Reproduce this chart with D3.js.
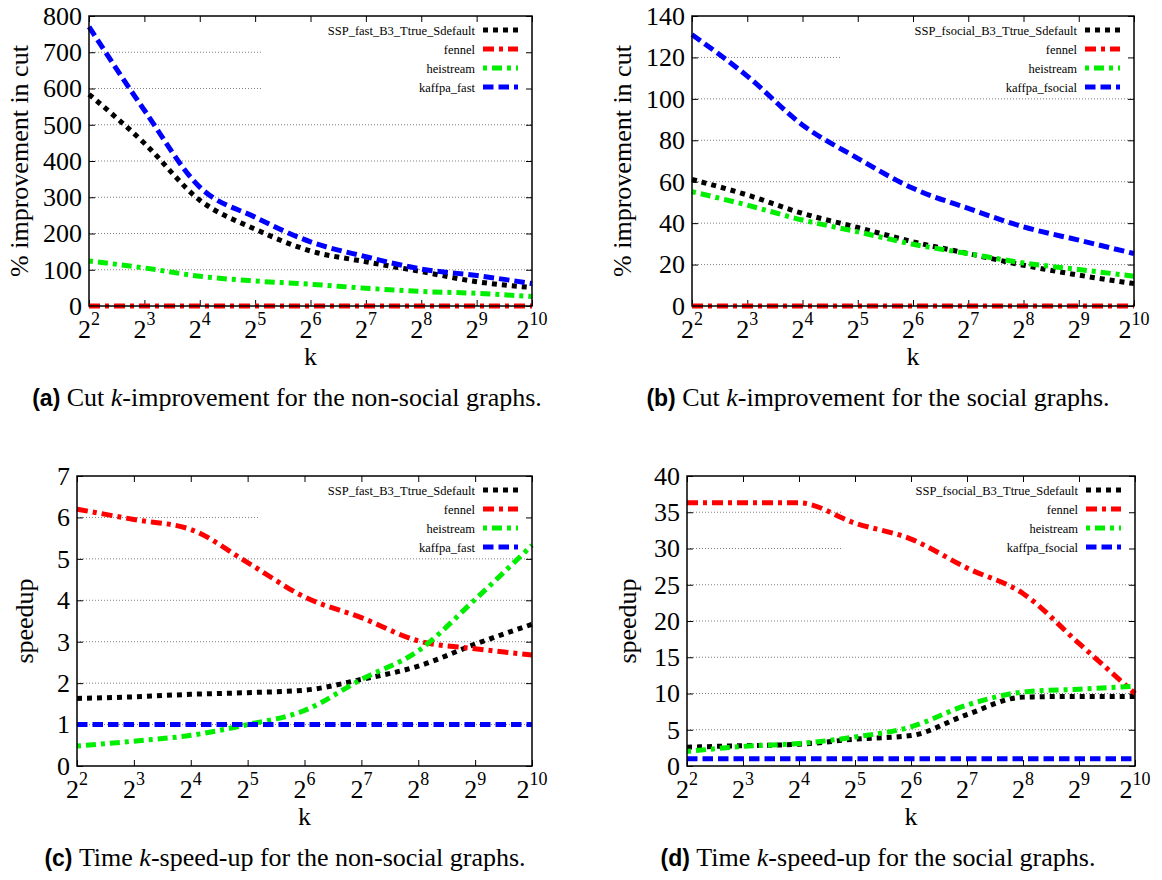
<!DOCTYPE html>
<html>
<head>
<meta charset="utf-8">
<script src="https://cdn.jsdelivr.net/npm/d3@7"></script>
<style>
  html, body { margin: 0; padding: 0; background: #fff; }
  svg { display: block; }
</style>
</head>
<body>
<svg id="chart" width="1162" height="880" font-family="'Liberation Serif', 'Times New Roman', serif"></svg>
<script>
// ---------------- data ----------------
const kExponents = [2, 3, 4, 5, 6, 7, 8, 9, 10];

const seriesNamesFast   = ["SSP_fast_B3_Ttrue_Sdefault", "fennel", "heistream", "kaffpa_fast"];
const seriesNamesSocial = ["SSP_fsocial_B3_Ttrue_Sdefault", "fennel", "heistream", "kaffpa_fsocial"];

// (a) % improvement in cut, non-social graphs
const cutNonSocialSSP       = [584, 449, 292, 212, 152, 122, 95, 67, 51];
const cutNonSocialFennel    = [0, 0, 0, 0, 0, 0, 0, 0, 0];
const cutNonSocialHeistream = [124, 105, 82, 69, 60, 49, 40, 35, 26];
const cutNonSocialKaffpa    = [770, 540, 328, 245, 177, 136, 102, 84, 62];

// (b) % improvement in cut, social graphs
const cutSocialSSP       = [61.1, 53.6, 44.7, 37.9, 31.0, 25.3, 19.7, 14.9, 10.8];
const cutSocialFennel    = [0, 0, 0, 0, 0, 0, 0, 0, 0];
const cutSocialHeistream = [55.2, 48.7, 41.5, 35.8, 29.8, 25.3, 20.8, 17.6, 14.4];
const cutSocialKaffpa    = [131, 111, 87.4, 71.3, 56.8, 47.1, 38.2, 31.8, 25.3];

// (c) speedup, non-social graphs
const timeNonSocialSSP       = [1.63, 1.67, 1.73, 1.77, 1.83, 2.09, 2.41, 2.94, 3.42];
const timeNonSocialFennel    = [6.2, 5.95, 5.71, 4.91, 4.08, 3.58, 3.02, 2.83, 2.68];
const timeNonSocialHeistream = [0.48, 0.6, 0.74, 1.0, 1.34, 2.09, 2.78, 4.02, 5.33];
const timeNonSocialKaffpa    = [1, 1, 1, 1, 1, 1, 1, 1, 1];

// (d) speedup, social graphs
const timeSocialSSP       = [2.6, 2.8, 3.0, 3.7, 4.2, 7.1, 9.5, 9.6, 9.6];
const timeSocialFennel    = [36.3, 36.3, 36.3, 33.5, 31.3, 27.3, 23.8, 16.9, 10.0];
const timeSocialHeistream = [2.0, 2.7, 3.1, 4.0, 5.4, 8.4, 10.2, 10.6, 11.0];
const timeSocialKaffpa    = [1, 1, 1, 1, 1, 1, 1, 1, 1];

const yTicksA = [0, 100, 200, 300, 400, 500, 600, 700, 800];
const yTicksB = [0, 20, 40, 60, 80, 100, 120, 140];
const yTicksC = [0, 1, 2, 3, 4, 5, 6, 7];
const yTicksD = [0, 5, 10, 15, 20, 25, 30, 35, 40];

const yLabelCut = "% improvement in cut";
const yLabelSpeed = "speedup";
const xLabel = "k";

const captionA = { tag: "(a)", pre: "Cut ", post: "-improvement for the non-social graphs." };
const captionB = { tag: "(b)", pre: "Cut ", post: "-improvement for the social graphs." };
const captionC = { tag: "(c)", pre: "Time ", post: "-speed-up for the non-social graphs." };
const captionD = { tag: "(d)", pre: "Time ", post: "-speed-up for the social graphs." };

// ---------------- styles ----------------
const SERIF = "'Liberation Serif', 'Times New Roman', serif";
const SANS = "'Liberation Sans', Arial, sans-serif";
const seriesStyles = [
  { color: "#000000", dash: "5,5" },
  { color: "#ff0000", dash: "11,5,4,5" },
  { color: "#00ee00", dash: "4,5,10,5" },
  { color: "#0000ff", dash: "10.5,5" }
];

// ---------------- layout ----------------
const panels = [
  { left: 89, right: 532, top: 16, bottom: 306, ticks: yTicksA, yLabel: yLabelCut, yLabelX: 28,
    names: seriesNamesFast, series: [cutNonSocialSSP, cutNonSocialFennel, cutNonSocialHeistream, cutNonSocialKaffpa],
    keyBoxLeft: 262, caption: captionA, capX: 287 },
  { left: 692, right: 1134, top: 16, bottom: 306, ticks: yTicksB, yLabel: yLabelCut, yLabelX: 631,
    names: seriesNamesSocial, series: [cutSocialSSP, cutSocialFennel, cutSocialHeistream, cutSocialKaffpa],
    keyBoxLeft: 842, caption: captionB, capX: 878 },
  { left: 77, right: 532, top: 476, bottom: 766, ticks: yTicksC, yLabel: yLabelSpeed, yLabelX: 33,
    names: seriesNamesFast, series: [timeNonSocialSSP, timeNonSocialFennel, timeNonSocialHeistream, timeNonSocialKaffpa],
    keyBoxLeft: 260, caption: captionC, capX: 285 },
  { left: 687, right: 1135, top: 476, bottom: 766, ticks: yTicksD, yLabel: yLabelSpeed, yLabelX: 636,
    names: seriesNamesSocial, series: [timeSocialSSP, timeSocialFennel, timeSocialHeistream, timeSocialKaffpa],
    keyBoxLeft: 842, caption: captionD, capX: 878 }
];

const svg = d3.select("#chart");

panels.forEach(p => {
  const g = svg.append("g").attr("font-family", SERIF);
  const x = d3.scaleLog().base(2).domain([4, 1024]).range([p.left, p.right]);
  const yMax = p.ticks[p.ticks.length - 1];
  const y = d3.scaleLinear().domain([0, yMax]).range([p.bottom, p.top]);
  const kValues = kExponents.map(e => Math.pow(2, e));

  // grid lines (interior ticks)
  g.append("g").selectAll("line")
    .data(p.ticks.filter(t => t > 0 && t < yMax))
    .join("line")
    .attr("x1", p.left).attr("x2", p.right)
    .attr("y1", d => y(d)).attr("y2", d => y(d))
    .attr("stroke", "#808080").attr("stroke-width", 1)
    .attr("stroke-dasharray", "1,2");

  // key box (opaque)
  g.append("rect")
    .attr("x", p.keyBoxLeft).attr("y", p.top + 1)
    .attr("width", p.right - p.keyBoxLeft - 1).attr("height", 80)
    .attr("fill", "#fff");

  // axes using d3 axis generators (ticks drawn inward)
  const xAxisBottom = d3.axisBottom(x).tickValues(kValues).tickSize(-6).tickFormat("");
  const xAxisTop = d3.axisTop(x).tickValues(kValues).tickSize(-6).tickFormat("");
  const yAxisLeft = d3.axisLeft(y).tickValues(p.ticks).tickSize(-6).tickFormat("");
  const yAxisRight = d3.axisRight(y).tickValues(p.ticks).tickSize(-6).tickFormat("");
  [[xAxisBottom, `translate(0,${p.bottom})`], [xAxisTop, `translate(0,${p.top})`],
   [yAxisLeft, `translate(${p.left},0)`], [yAxisRight, `translate(${p.right},0)`]].forEach(([ax, tr]) => {
    const a = g.append("g").attr("transform", tr).call(ax);
    a.select(".domain").remove();
    a.selectAll(".tick text").remove();
    a.selectAll(".tick line").attr("stroke", "#000").attr("stroke-width", 1);
  });

  // series lines
  const line = d3.line()
    .x((d, i) => x(kValues[i]))
    .y(d => y(d))
    .curve(d3.curveMonotoneX);
  p.series.forEach((vals, si) => {
    g.append("path")
      .datum(vals)
      .attr("d", line)
      .attr("fill", "none")
      .attr("stroke", seriesStyles[si].color)
      .attr("stroke-width", 5)
      .attr("stroke-dasharray", seriesStyles[si].dash)
      .attr("stroke-linecap", "butt");
  });

  // border
  g.append("rect")
    .attr("x", p.left).attr("y", p.top)
    .attr("width", p.right - p.left).attr("height", p.bottom - p.top)
    .attr("fill", "none").attr("stroke", "#000").attr("stroke-width", 1.5);

  // y tick labels
  g.append("g").selectAll("text")
    .data(p.ticks)
    .join("text")
    .attr("font-family", SERIF)
    .attr("x", p.left - 7)
    .attr("y", d => y(d))
    .attr("dy", "0.34em")
    .attr("text-anchor", "end")
    .attr("font-size", 26)
    .text(d => d);

  // x tick labels 2^n
  const xl = g.append("g").selectAll("text")
    .data(kExponents)
    .join("text")
    .attr("font-family", SERIF)
    .attr("x", d => x(Math.pow(2, d)))
    .attr("y", p.bottom + 32)
    .attr("text-anchor", "middle")
    .attr("font-size", 26);
  xl.append("tspan").text("2");
  xl.append("tspan").attr("font-size", 18).attr("dy", -13).text(d => d);

  // axis labels
  g.append("text")
    .attr("font-family", SERIF)
    .attr("x", (p.left + p.right) / 2)
    .attr("y", p.bottom + 59)
    .attr("text-anchor", "middle")
    .attr("font-size", 26)
    .text(xLabel);
  g.append("text")
    .attr("font-family", SERIF)
    .attr("transform", `translate(${p.yLabelX},${(p.top + p.bottom) / 2}) rotate(-90)`)
    .attr("text-anchor", "middle")
    .attr("font-size", 26)
    .text(p.yLabel);

  // legend
  const textRight = p.right - 57;
  const sampleX1 = p.right - 49, sampleX2 = p.right - 14;
  p.names.forEach((name, i) => {
    const ly = p.top + 14 + i * 19;
    g.append("text")
      .attr("font-family", SERIF)
      .attr("x", textRight).attr("y", ly + 4.5)
      .attr("text-anchor", "end")
      .attr("font-size", 12.5)
      .text(name);
    g.append("line")
      .attr("x1", sampleX1).attr("x2", sampleX2)
      .attr("y1", ly).attr("y2", ly)
      .attr("stroke", seriesStyles[i].color)
      .attr("stroke-width", 5)
      .attr("stroke-dasharray", seriesStyles[i].dash);
  });

  // caption
  const cap = g.append("text")
    .attr("font-family", SERIF)
    .attr("x", p.capX)
    .attr("y", p.bottom + 100)
    .attr("text-anchor", "middle")
    .attr("font-size", 26);
  cap.append("tspan")
    .attr("font-family", SANS)
    .attr("font-weight", "bold")
    .attr("font-size", 23)
    .text(p.caption.tag + " ");
  cap.append("tspan").text(p.caption.pre);
  cap.append("tspan").attr("font-style", "italic").text("k");
  cap.append("tspan").text(p.caption.post);
});
</script>
</body>
</html>
